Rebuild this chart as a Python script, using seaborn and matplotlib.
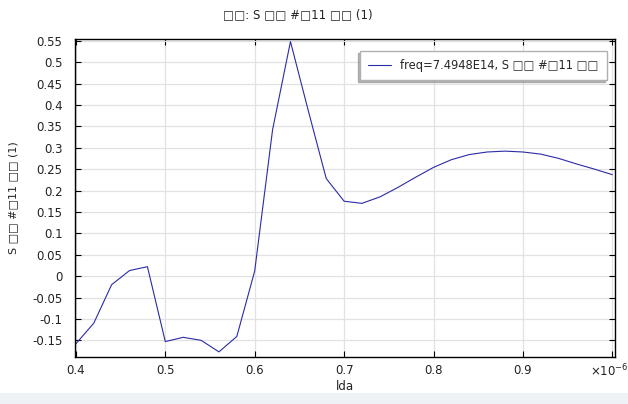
import numpy as np
import pandas as pd
import matplotlib
matplotlib.use("Agg")
import matplotlib.pyplot as plt
import seaborn as sns
from matplotlib.patches import Rectangle

# wavelength (x1e-6 m) and S-parameter values
lda = [0.40, 0.42, 0.44, 0.46, 0.48, 0.50, 0.52, 0.54, 0.56, 0.58,
       0.60, 0.62, 0.64, 0.66, 0.68, 0.70, 0.72, 0.74, 0.76, 0.78,
       0.80, 0.82, 0.84, 0.86, 0.88, 0.90, 0.92, 0.94, 0.96, 0.98, 1.00]
s11 = [-0.158, -0.110, -0.020, 0.013, 0.022, -0.153, -0.143, -0.150, -0.177, -0.141,
       0.012, 0.342, 0.548, 0.386, 0.228, 0.175, 0.170, 0.185, 0.207, 0.231,
       0.254, 0.272, 0.284, 0.290, 0.292, 0.290, 0.285, 0.275, 0.262, 0.250, 0.237]

xticks = [0.4, 0.5, 0.6, 0.7, 0.8, 0.9, 1.0]
xticklabels = ["0.4", "0.5", "0.6", "0.7", "0.8", "0.9", ""]
yticks = [-0.15, -0.1, -0.05, 0, 0.05, 0.1, 0.15, 0.2, 0.25, 0.3, 0.35, 0.4, 0.45, 0.5, 0.55]
yticklabels = ["-0.15", "-0.1", "-0.05", "0", "0.05", "0.1", "0.15", "0.2",
               "0.25", "0.3", "0.35", "0.4", "0.45", "0.5", "0.55"]

title = "\u25a1\u25a1: S \u25a1\u25a1 #\u25a111 \u25a1\u25a1 (1)"
ylabel = "S \u25a1\u25a1 #\u25a111 \u25a1\u25a1 (1)"
series = "freq=7.4948E14, S \u25a1\u25a1 #\u25a111 \u25a1\u25a1"

df = pd.DataFrame({"lda": lda, "s": s11, "series": series})

sns.set_theme(style="white")
plt.rcParams["font.family"] = ["DejaVu Sans"]
plt.rcParams["axes.unicode_minus"] = False

fig = plt.figure(figsize=(6.28, 4.04), dpi=100)
ax = fig.add_axes([75 / 628, 1 - 357 / 404, 540 / 628, 318 / 404])

sns.lineplot(data=df, x="lda", y="s", hue="series", palette=["#2b2ba6"],
             linewidth=0.8, ax=ax)

ax.set_xlim(0.399, 1.003)
ax.set_ylim(-0.189, 0.554)
ax.set_xticks(xticks)
ax.set_xticklabels(xticklabels)
ax.set_yticks(yticks)
ax.set_yticklabels(yticklabels)
ax.tick_params(direction="in", length=4, width=0.8, colors="black", labelsize=8.5,
               top=True, right=True, bottom=True, left=True)
ax.tick_params(axis="y", labelcolor="#222222", pad=9)
ax.tick_params(axis="x", labelcolor="#222222", pad=5)
ax.grid(True, color="#e2e2e2", linewidth=0.9)
for sp in ax.spines.values():
    sp.set_color("black")
    sp.set_linewidth(1.0)

ax.set_xlabel("lda", fontsize=8.5, color="#222222", labelpad=2)
ax.set_ylabel(ylabel, fontsize=8, color="#222222", labelpad=10)

ax.legend(loc="upper right", bbox_to_anchor=(0.985, 0.962), borderaxespad=0,
          fontsize=8.3, frameon=True, fancybox=False, edgecolor="#b0b0b0",
          framealpha=1, shadow={"ox": -1.5, "oy": -1.5, "color": "#777777"},
          handlelength=2.0, borderpad=0.7, title=None)

fig.text(298 / 628, 1 - 15 / 404, title, fontsize=8.5, ha="center", va="center",
         color="#222222")
fig.text(590 / 628, 1 - 371 / 404, r"×10$^{-6}$", fontsize=8.5, ha="left",
         va="center", color="#222222")

# window status strip along the bottom
fig.patches.append(Rectangle((0, 0), 1, 11 / 404, transform=fig.transFigure,
                             facecolor="#eef1f5", edgecolor="none"))

fig.savefig("out.png", dpi=100)
